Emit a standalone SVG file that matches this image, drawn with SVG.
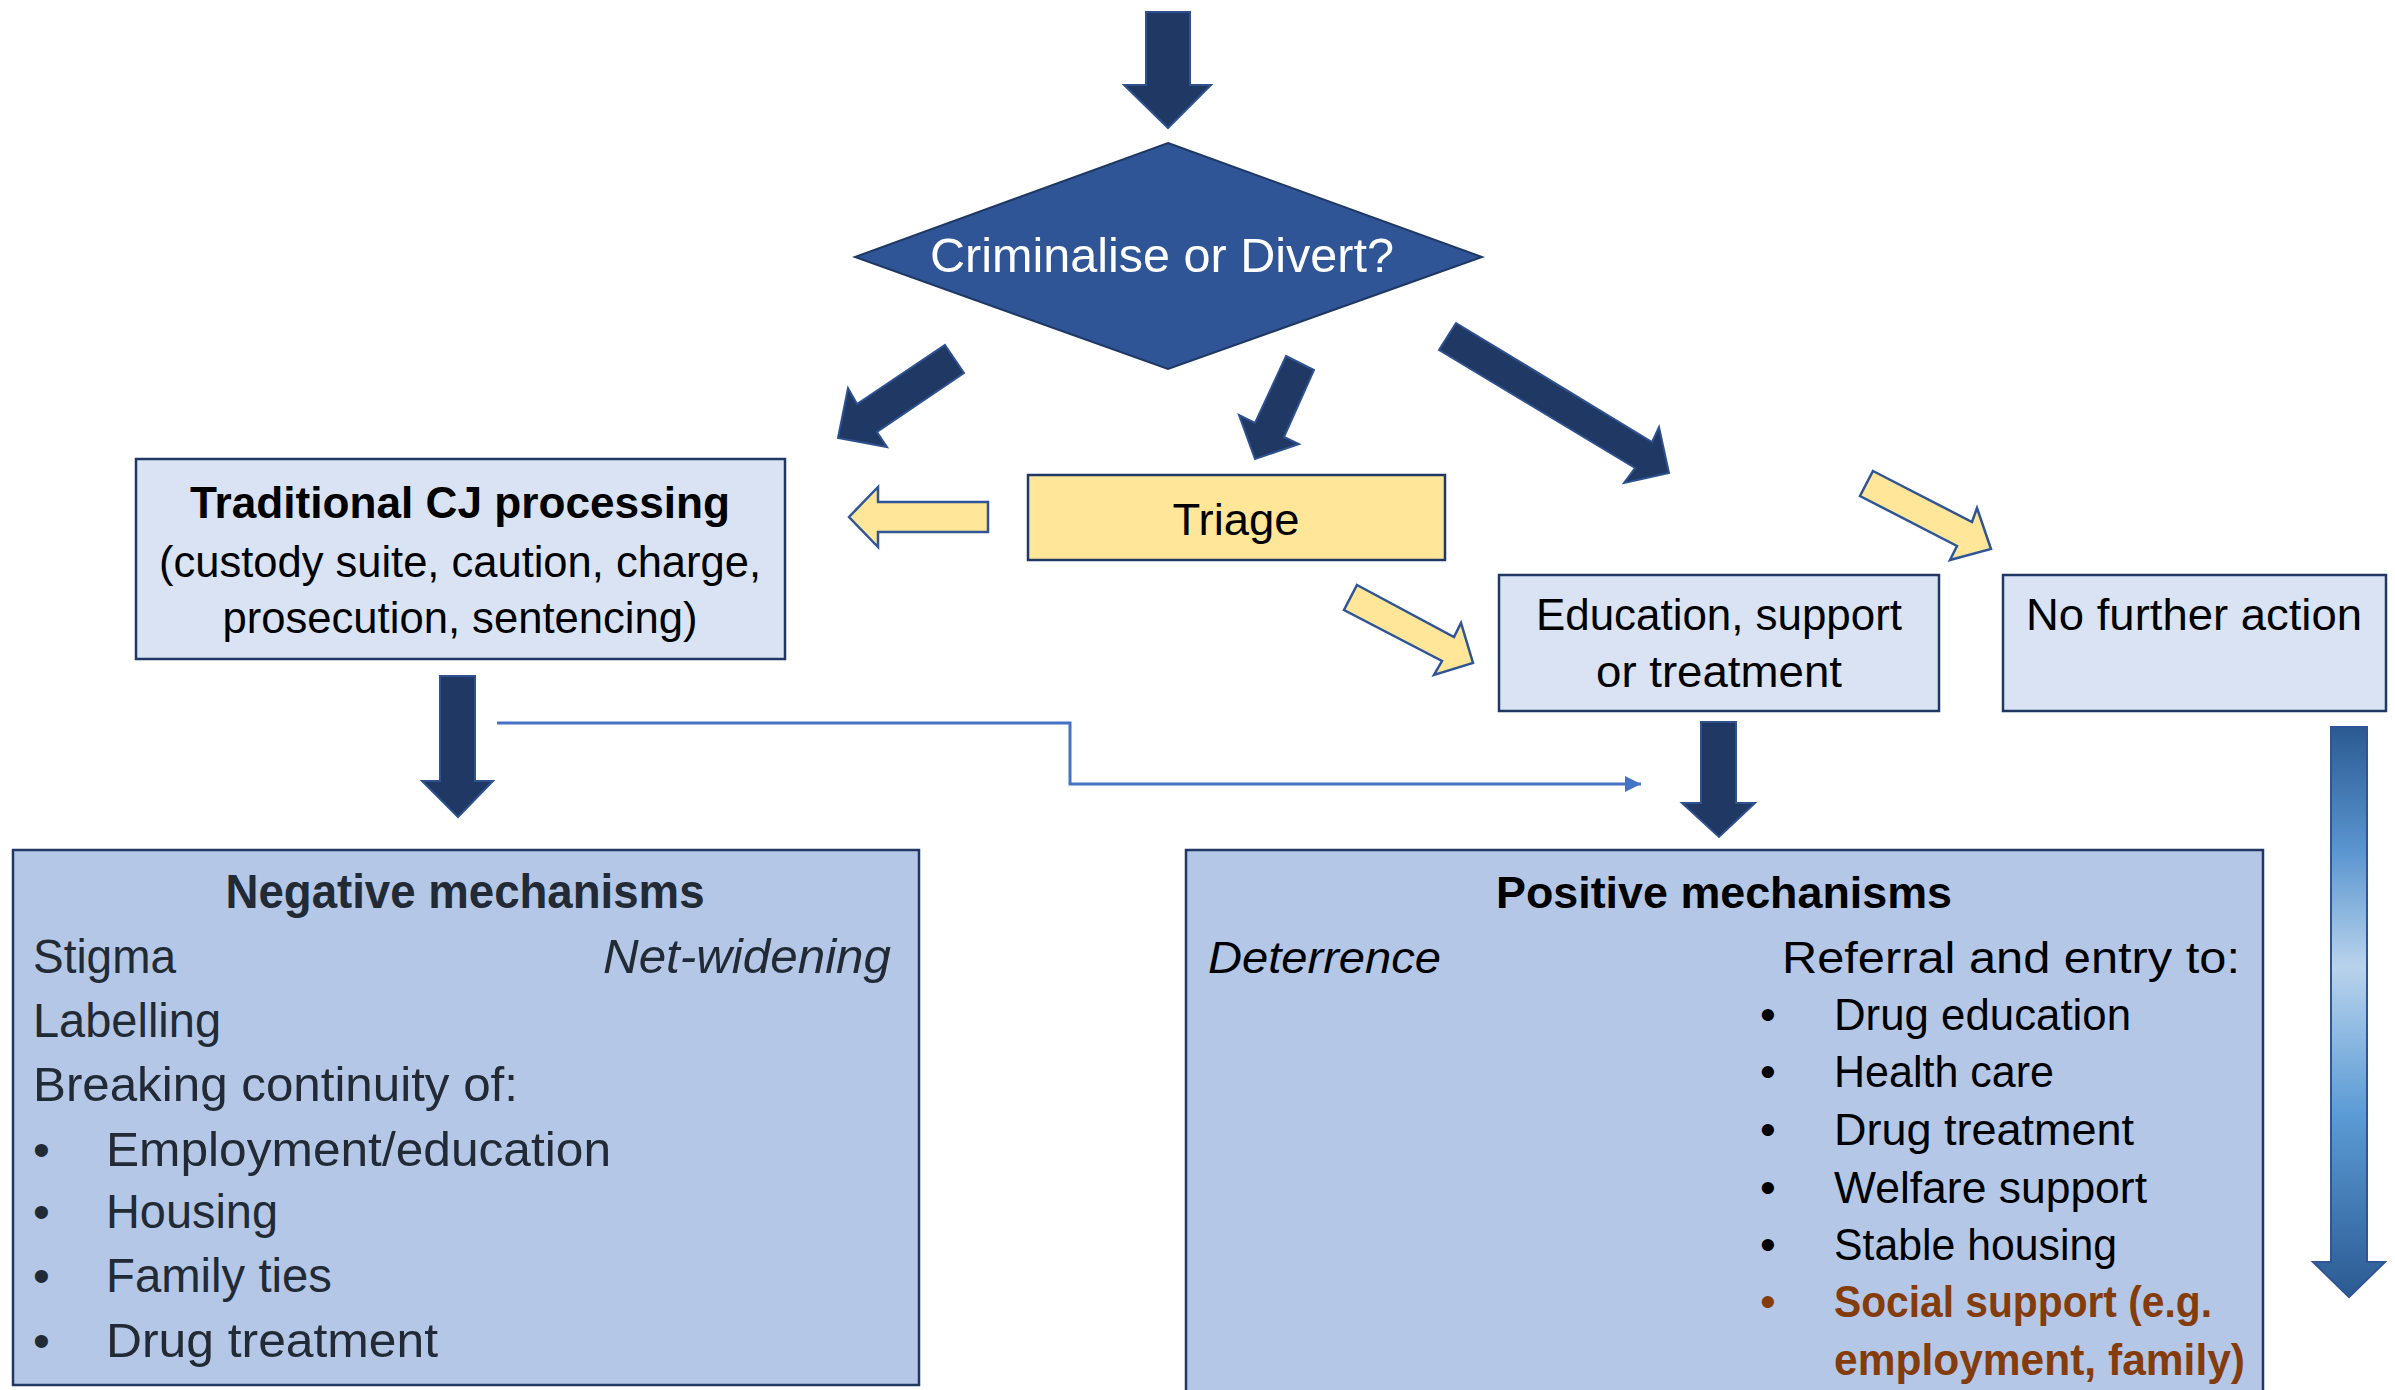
<svg xmlns="http://www.w3.org/2000/svg" width="2395" height="1390" viewBox="0 0 2395 1390">
<defs>
<style>
text{font-family:"Liberation Sans",Arial,sans-serif;}
.dark{fill:#203864;stroke:#2F528F;stroke-width:2;stroke-linejoin:miter;}
.yel{fill:#FFE699;stroke:#2F5597;stroke-width:2.5;stroke-linejoin:miter;}
.lbox{fill:#DAE3F3;stroke:#1F3864;stroke-width:2.5;}
.mbox{fill:#B4C7E7;stroke:#1F3864;stroke-width:2.5;}
.t{font-size:45px;fill:#000;}
.neg{font-size:48px;fill:#222A35;}
.pos{font-size:45px;fill:#000;}
.b{font-weight:bold;}
.i{font-style:italic;}
.c{text-anchor:middle;}
.brown{fill:#843C0C;}
.conn{fill:none;stroke:#4472C4;stroke-width:3;}
</style>
<linearGradient id="grad" x1="0" y1="0" x2="0" y2="1">
<stop offset="0" stop-color="#2B5A92"/>
<stop offset="0.22" stop-color="#5B96D0"/>
<stop offset="0.42" stop-color="#B9D3EC"/>
<stop offset="0.68" stop-color="#5B9BD5"/>
<stop offset="1" stop-color="#2B5A92"/>
</linearGradient>
<marker id="ah" markerUnits="userSpaceOnUse" markerWidth="20" markerHeight="20" refX="16" refY="8" orient="auto">
<path d="M0,0 L16,8 L0,16 Z" fill="#4472C4"/>
</marker>
</defs>
<rect width="2395" height="1390" fill="#FFFFFF"/>

<g id="connectors">
<polygon id="arrow-in" class="dark" points="1146,12 1190,12 1190,85 1211,85 1168,128 1124,85 1146,85"/>
<polygon id="arrow-to-cj" class="dark" points="945,345 964,373 877,432 887,447 838,438 848,388 857,404"/>
<polygon id="arrow-to-triage" class="dark" points="1286,356 1314,370 1284,437 1299,444 1255,459 1239,415 1255,423"/>
<polygon id="arrow-to-edu" class="dark" points="1456,323 1652,442 1659,427 1669,473 1624,483 1635,468 1439,350"/>
<polygon id="triage-to-cj" class="yel" points="849,517 878,487 878,502 988,502 988,532 878,532 878,547"/>
<polygon id="triage-to-edu" class="yel" points="1357,585 1454,637 1461,623 1473,663 1434,675 1442,661 1344,610"/>
<polygon id="triage-to-nfa" class="yel" points="1873,471 1972,522 1977,508 1991,549 1950,560 1957,546 1860,496"/>
<polygon id="cj-to-neg" class="dark" points="440,676 475,676 475,781 493,781 458,817 422,781 440,781"/>
<polygon id="edu-to-pos" class="dark" points="1701,722 1736,722 1736,803 1755,803 1719,837 1682,803 1701,803"/>
<polygon id="nfa-arrow" points="2331,727 2367,727 2367,1262 2385,1262 2349,1297 2313,1262 2331,1262" fill="url(#grad)" stroke="#2F5597" stroke-width="2"/>
<polyline id="cj-to-pos" class="conn" points="497,723 1070,723 1070,784 1641,784" marker-end="url(#ah)"/>
</g>

<g id="decision">
<polygon points="1168,143 1482,257 1168,369 855,257" fill="#2F5597" stroke="#1F3864" stroke-width="2"/>
<text x="1162" y="272" class="c" font-size="48" fill="#FFFFFF" textLength="464" lengthAdjust="spacingAndGlyphs">Criminalise or Divert?</text>
</g>

<g id="traditional">
<rect x="136" y="459" width="649" height="200" class="lbox"/>
<text x="460" y="518" class="t b c" textLength="540" lengthAdjust="spacingAndGlyphs">Traditional CJ processing</text>
<text x="460" y="577" class="t c" textLength="602" lengthAdjust="spacingAndGlyphs">(custody suite, caution, charge,</text>
<text x="460" y="633" class="t c" textLength="475" lengthAdjust="spacingAndGlyphs">prosecution, sentencing)</text>
</g>

<g id="triage">
<rect x="1028" y="475" width="417" height="85" fill="#FFE699" stroke="#1F3864" stroke-width="2.5"/>
<text x="1236" y="535" class="t c" font-size="47" textLength="127" lengthAdjust="spacingAndGlyphs">Triage</text>
</g>

<g id="education">
<rect x="1499" y="575" width="440" height="136" class="lbox"/>
<text x="1719" y="630" class="t c" textLength="366" lengthAdjust="spacingAndGlyphs">Education, support</text>
<text x="1719" y="687" class="t c" textLength="246" lengthAdjust="spacingAndGlyphs">or treatment</text>
</g>

<g id="nfa">
<rect x="2003" y="575" width="383" height="136" class="lbox"/>
<text x="2194" y="630" class="t c" textLength="336" lengthAdjust="spacingAndGlyphs">No further action</text>
</g>

<g id="negative">
<rect x="13" y="850" width="906" height="535" class="mbox"/>
<text x="465" y="908" class="neg b c" textLength="479" lengthAdjust="spacingAndGlyphs">Negative mechanisms</text>
<text x="33" y="973" class="neg" textLength="143" lengthAdjust="spacingAndGlyphs">Stigma</text>
<text x="603" y="973" class="neg i" textLength="288" lengthAdjust="spacingAndGlyphs">Net-widening</text>
<text x="33" y="1037" class="neg" textLength="188" lengthAdjust="spacingAndGlyphs">Labelling</text>
<text x="33" y="1101" class="neg" textLength="485" lengthAdjust="spacingAndGlyphs">Breaking continuity of:</text>
<text x="33" y="1166" class="neg">•</text>
<text x="106" y="1166" class="neg" textLength="505" lengthAdjust="spacingAndGlyphs">Employment/education</text>
<text x="33" y="1228" class="neg">•</text>
<text x="106" y="1228" class="neg" textLength="172" lengthAdjust="spacingAndGlyphs">Housing</text>
<text x="33" y="1292" class="neg">•</text>
<text x="106" y="1292" class="neg" textLength="226" lengthAdjust="spacingAndGlyphs">Family ties</text>
<text x="33" y="1357" class="neg">•</text>
<text x="106" y="1357" class="neg" textLength="332" lengthAdjust="spacingAndGlyphs">Drug treatment</text>
</g>

<g id="positive">
<rect x="1186" y="850" width="1077" height="560" class="mbox"/>
<text x="1724" y="908" class="pos b c" font-size="47" textLength="456" lengthAdjust="spacingAndGlyphs">Positive mechanisms</text>
<text x="1208" y="973" class="pos i" font-size="47" textLength="233" lengthAdjust="spacingAndGlyphs">Deterrence</text>
<text x="1782" y="973" class="pos" font-size="47" textLength="458" lengthAdjust="spacingAndGlyphs">Referral and entry to:</text>
<text x="1760" y="1030" class="pos">•</text>
<text x="1834" y="1030" class="pos" textLength="297" lengthAdjust="spacingAndGlyphs">Drug education</text>
<text x="1760" y="1087" class="pos">•</text>
<text x="1834" y="1087" class="pos" textLength="220" lengthAdjust="spacingAndGlyphs">Health care</text>
<text x="1760" y="1145" class="pos">•</text>
<text x="1834" y="1145" class="pos" textLength="300" lengthAdjust="spacingAndGlyphs">Drug treatment</text>
<text x="1760" y="1203" class="pos">•</text>
<text x="1834" y="1203" class="pos" textLength="313" lengthAdjust="spacingAndGlyphs">Welfare support</text>
<text x="1760" y="1260" class="pos">•</text>
<text x="1834" y="1260" class="pos" textLength="283" lengthAdjust="spacingAndGlyphs">Stable housing</text>
<text x="1760" y="1317" class="pos brown">•</text>
<text x="1834" y="1317" class="pos b brown" textLength="378" lengthAdjust="spacingAndGlyphs">Social support (e.g.</text>
<text x="1834" y="1375" class="pos b brown" textLength="411" lengthAdjust="spacingAndGlyphs">employment, family)</text>
</g>
</svg>
